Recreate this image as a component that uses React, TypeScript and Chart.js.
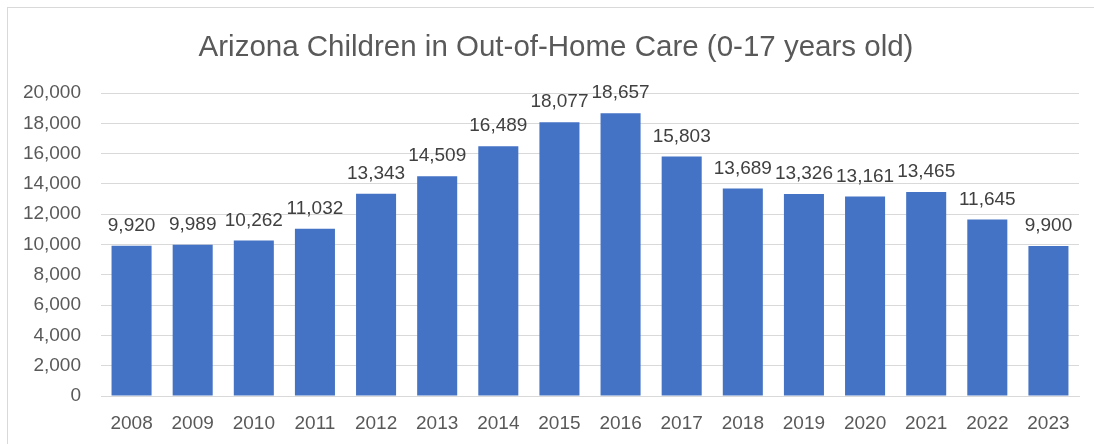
import React, { useEffect, useRef } from "react";
import { Chart, registerables } from "chart.js";

Chart.register(...registerables);

const years = ["2008","2009","2010","2011","2012","2013","2014","2015","2016","2017","2018","2019","2020","2021","2022","2023"];
const children = [9920, 9989, 10262, 11032, 13343, 14509, 16489, 18077, 18657, 15803, 13689, 13326, 13161, 13465, 11645, 9900];
const titleText = "Arizona Children in Out-of-Home Care (0-17 years old)";
const yMax = 20000;
const yStep = 2000;

const FONT = "'Liberation Sans', Arial, sans-serif";

const labelPlugin = {
  id: "barLabels",
  afterDatasetsDraw(chart: any) {
    const ctx = chart.ctx;
    const meta = chart.getDatasetMeta(0);
    ctx.save();
    ctx.font = `19px ${FONT}`;
    ctx.fillStyle = "#404040";
    ctx.textAlign = "center";
    ctx.textBaseline = "alphabetic";
    meta.data.forEach((bar: any, i: number) => {
      const v = chart.data.datasets[0].data[i] as number;
      ctx.fillText(v.toLocaleString("en-US"), bar.x, bar.y - 15);
    });
    ctx.restore();
  },
};

const titlePlugin = {
  id: "customTitle",
  afterDraw(chart: any) {
    const ctx = chart.ctx;
    ctx.save();
    ctx.font = `29.5px ${FONT}`;
    ctx.fillStyle = "#595959";
    ctx.textAlign = "center";
    ctx.textBaseline = "middle";
    ctx.fillText(titleText, 556, 48);
    ctx.restore();
  },
};

export default function App() {
  const ref = useRef<HTMLCanvasElement | null>(null);
  useEffect(() => {
    if (!ref.current) return;
    const chart = new Chart(ref.current, {
      type: "bar",
      data: {
        labels: years,
        datasets: [
          {
            data: children,
            backgroundColor: "#4472C4",
            borderWidth: 0,
            categoryPercentage: 1,
            barPercentage: 0.655,
          },
        ],
      },
      options: {
        animation: false,
        responsive: false,
        maintainAspectRatio: false,
        layout: { padding: { left: 8, right: 15, top: 93, bottom: 0 } },
        plugins: {
          legend: { display: false },
          title: { display: false },
          tooltip: { enabled: false },
        },
        scales: {
          x: {
            grid: { display: false, drawTicks: false },
            border: { display: true, color: "#d9d9d9", width: 1 },
            ticks: {
              color: "#595959",
              font: { family: FONT, size: 19 },
              padding: 16,
              maxRotation: 0,
              autoSkip: false,
            },
            afterFit(scale: any) {
              scale.height = 48;
            },
          },
          y: {
            min: 0,
            max: yMax,
            grid: { color: "#d9d9d9", lineWidth: 1, drawTicks: false },
            border: { display: false },
            ticks: {
              stepSize: yStep,
              color: "#595959",
              font: { family: FONT, size: 19 },
              padding: 20,
              callback: (v: any) => Number(v).toLocaleString("en-US"),
            },
            afterFit(scale: any) {
              scale.width = 93;
            },
          },
        },
      },
      plugins: [labelPlugin, titlePlugin],
    });
    return () => chart.destroy();
  }, []);

  return (
    <div style={{ position: "absolute", left: 0, top: 0, width: 1094, height: 444, overflow: "hidden", background: "#fff" }}>
      <canvas ref={ref} width={1094} height={444} style={{ position: "absolute", left: 0, top: 0, width: 1094, height: 444 }} />
      <div style={{ position: "absolute", left: 7, top: 7, width: 2000, height: 2000, border: "1px solid #d9d9d9", pointerEvents: "none" }} />
    </div>
  );
}
